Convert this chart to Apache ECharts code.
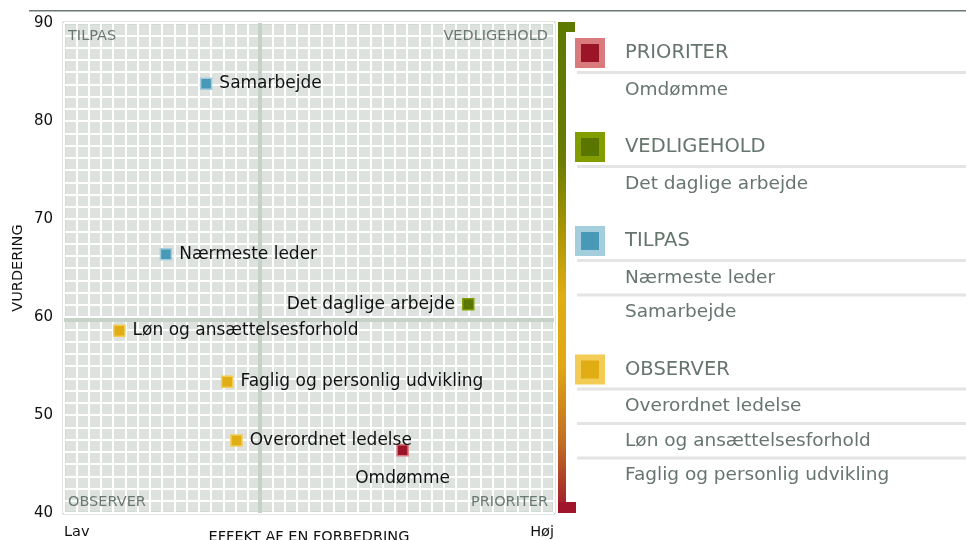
<!DOCTYPE html>
<html>
<head>
<meta charset="utf-8">
<script src="https://cdn.jsdelivr.net/npm/echarts@6/dist/echarts.min.js"></script>
<style>
html,body{margin:0;padding:0;background:#fff;}
#chart{width:966px;height:540px;}
</style>
</head>
<body>
<div id="chart"></div>
<script>
// ---- data ----
const groupNames = ['PRIORITER', 'VEDLIGEHOLD', 'TILPAS', 'OBSERVER'];

const prioriterNames = ['Omdømme'];
const prioriterX = [69.1];
const prioriterY = [46.4];

const vedligeholdNames = ['Det daglige arbejde'];
const vedligeholdX = [82.5];
const vedligeholdY = [61.3];

const tilpasNames = ['Nærmeste leder', 'Samarbejde'];
const tilpasX = [20.8, 29.0];
const tilpasY = [66.4, 83.8];

const observerNames = ['Overordnet ledelse', 'Løn og ansættelsesforhold', 'Faglig og personlig udvikling'];
const observerX = [35.2, 11.3, 33.3];
const observerY = [47.4, 58.6, 53.4];

const xTickLabels = ['Lav', 'Høj'];
const yTickLabels = [40, 50, 60, 70, 80, 90];
const quadrantLabels = ['TILPAS', 'VEDLIGEHOLD', 'OBSERVER', 'PRIORITER'];
const xDivider = 40;
const yDivider = 59.7;
const xAxisTitle = 'EFFEKT AF EN FORBEDRING';
const yAxisTitle = 'VURDERING';

// ---- styles ----
const FONT = 'DejaVu Sans';
const groupStyle = {
  PRIORITER:   { fill: '#9c1428', light: '#d97a7d' },
  VEDLIGEHOLD: { fill: '#5b7600', light: '#829d00' },
  TILPAS:      { fill: '#4899b7', light: '#a5cedd' },
  OBSERVER:    { fill: '#e1ad14', light: '#f2cc55' }
};
const labelPlacement = {
  'Det daglige arbejde': { position: 'left', distance: 7 },
  'Omdømme': { position: 'bottom', distance: 14 }
};

const groupData = {
  PRIORITER: [prioriterNames, prioriterX, prioriterY],
  VEDLIGEHOLD: [vedligeholdNames, vedligeholdX, vedligeholdY],
  TILPAS: [tilpasNames, tilpasX, tilpasY],
  OBSERVER: [observerNames, observerX, observerY]
};

const G = { left: 64, top: 23, width: 490, height: 490 };

const series = groupNames.map(function (g, gi) {
  const d = groupData[g];
  const st = groupStyle[g];
  const s = {
    type: 'scatter',
    name: g,
    symbol: 'rect',
    symbolSize: 11,
    z: 5,
    itemStyle: { color: st.fill, borderColor: st.light, borderWidth: 1.5, opacity: 1 },
    label: {
      show: true, position: 'right', distance: 7,
      formatter: function (p) { return p.data.name; },
      color: '#111', fontFamily: FONT, fontSize: 17
    },
    data: d[0].map(function (n, i) {
      const item = { name: n, value: [d[1][i], d[2][i]] };
      if (labelPlacement[n]) item.label = labelPlacement[n];
      return item;
    })
  };
  if (gi === 0) {
    s.markLine = {
      silent: true, symbol: 'none', animation: false,
      label: { show: false },
      lineStyle: { color: '#c6d1c7', width: 4, type: 'solid' },
      data: [{ xAxis: xDivider }, { yAxis: yDivider }],
      z: 2
    };
  }
  return s;
});

// ---- legend (graphic) ----
const graphics = [];
// top rule
graphics.push({ type: 'rect', shape: { x: 29, y: 10, width: 937, height: 1.5 }, style: { fill: '#6e7873' }, silent: true });
// gradient bracket
const barX = 558, barTop = 22, barBottom = 513;
graphics.push({
  type: 'rect', shape: { x: barX, y: barTop, width: 8, height: barBottom - barTop },
  style: { fill: new echarts.graphic.LinearGradient(0, 0, 0, 1, [
    { offset: 0, color: '#5d7900' },
    { offset: 0.28, color: '#6b7c00' },
    { offset: 0.42, color: '#a89406' },
    { offset: 0.56, color: '#e0ad14' },
    { offset: 0.7, color: '#e0a816' },
    { offset: 0.86, color: '#c06d24' },
    { offset: 1, color: '#a0152b' }
  ]) }, silent: true
});
graphics.push({ type: 'rect', shape: { x: barX, y: barTop, width: 17, height: 10 }, style: { fill: '#5d7900' }, silent: true });
graphics.push({ type: 'rect', shape: { x: barX, y: barBottom - 11, width: 18, height: 11 }, style: { fill: '#a0152b' }, silent: true });

const legTextX = 625, symCX = 590, sepX = 577;
let y = 53;
groupNames.forEach(function (g) {
  const st = groupStyle[g];
  const items = groupData[g][0];
  graphics.push({ type: 'rect', shape: { x: symCX - 15, y: y - 15, width: 30, height: 30 }, style: { fill: st.light }, silent: true });
  graphics.push({ type: 'rect', shape: { x: symCX - 9, y: y - 9, width: 18, height: 18 }, style: { fill: st.fill }, silent: true });
  graphics.push({ type: 'text', x: legTextX, y: y, style: { text: g, fill: '#66756e', font: '19.5px "' + FONT + '"', textVerticalAlign: 'middle' }, silent: true });
  graphics.push({ type: 'rect', shape: { x: sepX, y: y + 18, width: 966 - sepX, height: 3 }, style: { fill: '#e4e4e4' }, silent: true });
  let iy = y + 37;
  items.forEach(function (n, i) {
    graphics.push({ type: 'text', x: legTextX, y: iy, style: { text: n, fill: '#66756e', font: '18.5px "' + FONT + '"', textVerticalAlign: 'middle' }, silent: true });
    if (i < items.length - 1) {
      graphics.push({ type: 'rect', shape: { x: sepX, y: iy + 15.5, width: 966 - sepX, height: 3 }, style: { fill: '#e4e4e4' }, silent: true });
      iy += 34.5;
    }
  });
  y = iy + 57;
});

// quadrant labels
const qStyle = { fill: '#6a7872', font: '14.5px "' + FONT + '"', textVerticalAlign: 'middle' };
const qPos = [
  { x: G.left + 4, y: G.top + 13, align: 'left' },
  { x: G.left + G.width - 6, y: G.top + 13, align: 'right' },
  { x: G.left + 4, y: G.top + G.height - 11, align: 'left' },
  { x: G.left + G.width - 6, y: G.top + G.height - 11, align: 'right' }
];
quadrantLabels.forEach(function (t, i) {
  graphics.push({ type: 'text', x: qPos[i].x, y: qPos[i].y, z: 3,
    style: Object.assign({ text: t, textAlign: qPos[i].align }, qStyle), silent: true });
});

const chart = echarts.init(document.getElementById('chart'), null, { renderer: 'canvas' });
chart.setOption({
  animation: false,
  backgroundColor: '#ffffff',
  grid: {
    left: G.left, top: G.top, width: G.width, height: G.height,
    outerBoundsMode: 'none', containLabel: false,
    show: true, backgroundColor: '#dde2df', borderColor: '#c8d2c9', borderWidth: 3
  },
  xAxis: {
    type: 'value', min: 0, max: 100, interval: 2.5,
    name: xAxisTitle, nameLocation: 'middle', nameGap: 17, nameMoveOverlap: false,
    nameTextStyle: { color: '#111', fontFamily: FONT, fontSize: 14.5 },
    axisLine: { show: false }, axisTick: { show: false },
    splitLine: { show: true, lineStyle: { color: '#ffffff', width: 2 } },
    axisLabel: {
      color: '#111', fontFamily: FONT, fontSize: 14.5, margin: 12,
      alignMinLabel: 'left', alignMaxLabel: 'right',
      formatter: function (v) { return v === 0 ? xTickLabels[0] : (v === 100 ? xTickLabels[1] : ''); }
    }
  },
  yAxis: {
    type: 'value', min: 40, max: 90, interval: 1.25,
    name: yAxisTitle, nameLocation: 'middle', nameGap: 38, nameMoveOverlap: false,
    nameTextStyle: { color: '#111', fontFamily: FONT, fontSize: 14.5 },
    axisLine: { show: false }, axisTick: { show: false },
    splitLine: { show: true, lineStyle: { color: '#ffffff', width: 2 } },
    axisLabel: {
      color: '#111', fontFamily: FONT, fontSize: 15, margin: 11,
      formatter: function (v) {
        const r = Math.round(v);
        return (Math.abs(v - r) < 1e-6 && yTickLabels.indexOf(r) >= 0) ? String(r) : '';
      }
    }
  },
  graphic: graphics,
  series: series
});
</script>
</body>
</html>
